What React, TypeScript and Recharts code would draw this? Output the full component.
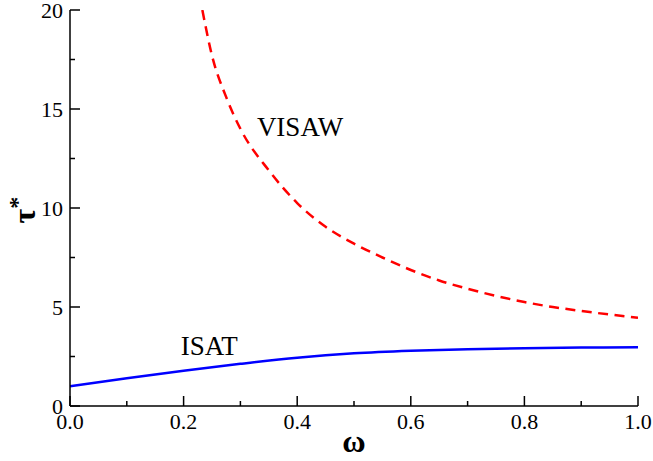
import React from 'react'
import { LineChart, Line, XAxis, YAxis, ReferenceDot } from 'recharts'

// ISAT curve (blue, solid)
const isatOmega = [0, 0.1, 0.2, 0.3, 0.4, 0.5, 0.6, 0.7, 0.8, 0.9, 1.0]
const isatTau = [1.0, 1.4, 1.78, 2.13, 2.44, 2.66, 2.79, 2.87, 2.92, 2.95, 2.97]

// VISAW curve (red, dashed)
const visawOmega = [0.233, 0.25, 0.275, 0.3, 0.35, 0.4, 0.45, 0.5, 0.55, 0.6, 0.65, 0.7, 0.75, 0.8, 0.85, 0.9, 0.95, 1.0]
const visawTau = [20, 17.7, 15.6, 14.0, 11.9, 10.25, 9.05, 8.2, 7.5, 6.87, 6.34, 5.92, 5.56, 5.25, 5.0, 4.8, 4.62, 4.46]

const xTicks = [0, 0.1, 0.2, 0.3, 0.4, 0.5, 0.6, 0.7, 0.8, 0.9, 1.0]
const yTicks = [0, 2.5, 5, 7.5, 10, 12.5, 15, 17.5, 20]

const isatData = isatOmega.map((w, i) => ({ w, v: isatTau[i] }))
const visawData = visawOmega.map((w, i) => ({ w, v: visawTau[i] }))

const SERIF = { fontFamily: '"Liberation Serif", "Times New Roman", serif' }
const AXIS = { stroke: '#000', strokeWidth: 1.5 }

const majorX = (v) => Math.round(v * 10) % 2 === 0
const majorY = (v) => Math.round(v * 2) % 2 === 0

const BottomTick = ({ x, y, payload }) => {
  const big = majorX(payload.value)
  return (
    <g>
      <line x1={x} x2={x} y1={y} y2={y - (big ? 10 : 5)} stroke="#000" strokeWidth={1.5} />
      {big && (
        <text x={x} y={y + 23} textAnchor="middle" fontSize={22} style={SERIF} fill="#000">
          {payload.value.toFixed(1)}
        </text>
      )}
    </g>
  )
}

const TopTick = ({ x, y, payload }) => {
  const big = majorX(payload.value)
  return <line x1={x} x2={x} y1={y} y2={y + (big ? 10 : 5)} stroke="#000" strokeWidth={1.5} />
}

const LeftTick = ({ x, y, payload }) => {
  const big = majorY(payload.value)
  return (
    <g>
      <line x1={x} x2={x + (big ? 10 : 5)} y1={y} y2={y} stroke="#000" strokeWidth={1.5} />
      {big && (
        <text x={x - 7} y={y} dy="0.35em" textAnchor="end" fontSize={22} style={SERIF} fill="#000">
          {payload.value}
        </text>
      )}
    </g>
  )
}

const RightTick = ({ x, y, payload }) => {
  const big = majorY(payload.value)
  return <line x1={x} x2={x - (big ? 10 : 5)} y1={y} y2={y} stroke="#000" strokeWidth={1.5} />
}

const YLabel = ({ viewBox }) => {
  const cx = viewBox.x + 35
  const cy = viewBox.y + viewBox.height / 2 + 2
  return (
    <text x={cx} y={cy} transform={`rotate(-90 ${cx} ${cy})`} textAnchor="middle"
      fontSize={32} fontWeight="bold" style={SERIF} fill="#000">
      τ<tspan fontSize={24} dy={-10}>*</tspan>
    </text>
  )
}

const XLabel = ({ viewBox }) => (
  <text x={viewBox.x + viewBox.width / 2} y={viewBox.y + 46} textAnchor="middle"
    fontSize={32} fontWeight="bold" style={SERIF} fill="#000">
    ω
  </text>
)

const textShape = (txt) => (p) => (
  <text x={p.cx} y={p.cy} dy="0.35em" textAnchor="middle" fontSize={27} style={SERIF} fill="#000">
    {txt}
  </text>
)

export default function App() {
  return (
    <div style={{ position: 'absolute', left: 0, top: 0 }}>
      <LineChart width={653} height={461} margin={{ top: 10, right: 15, bottom: 0, left: 0 }}>
        <XAxis dataKey="w" type="number" domain={[0, 1]} ticks={xTicks} interval={0}
          tickSize={0} tickMargin={0} height={55} axisLine={AXIS} tick={BottomTick}
          allowDataOverflow label={{ content: XLabel }} />
        <XAxis xAxisId="top" orientation="top" dataKey="w" type="number" domain={[0, 1]} ticks={xTicks}
          interval={0} tickSize={0} tickMargin={0} height={0} axisLine={AXIS} tick={TopTick} allowDataOverflow />
        <YAxis type="number" domain={[0, 20]} ticks={yTicks} interval={0} tickSize={0} tickMargin={0}
          width={70} axisLine={AXIS} tick={LeftTick} allowDataOverflow label={{ content: YLabel }} />
        <YAxis yAxisId="right" orientation="right" type="number" domain={[0, 20]} ticks={yTicks} interval={0}
          tickSize={0} tickMargin={0} width={0} axisLine={AXIS} tick={RightTick} allowDataOverflow />
        <Line data={isatData} dataKey="v" type="monotone" stroke="#0000ff" strokeWidth={2.5}
          dot={false} isAnimationActive={false} />
        <Line data={visawData} dataKey="v" type="monotone" stroke="#ff0000" strokeWidth={2.5}
          strokeDasharray="10 6.5" dot={false} isAnimationActive={false} />
        <ReferenceDot x={0.405} y={14.1} r={0} shape={textShape('VISAW')} />
        <ReferenceDot x={0.245} y={3.05} r={0} shape={textShape('ISAT')} />
      </LineChart>
    </div>
  )
}
